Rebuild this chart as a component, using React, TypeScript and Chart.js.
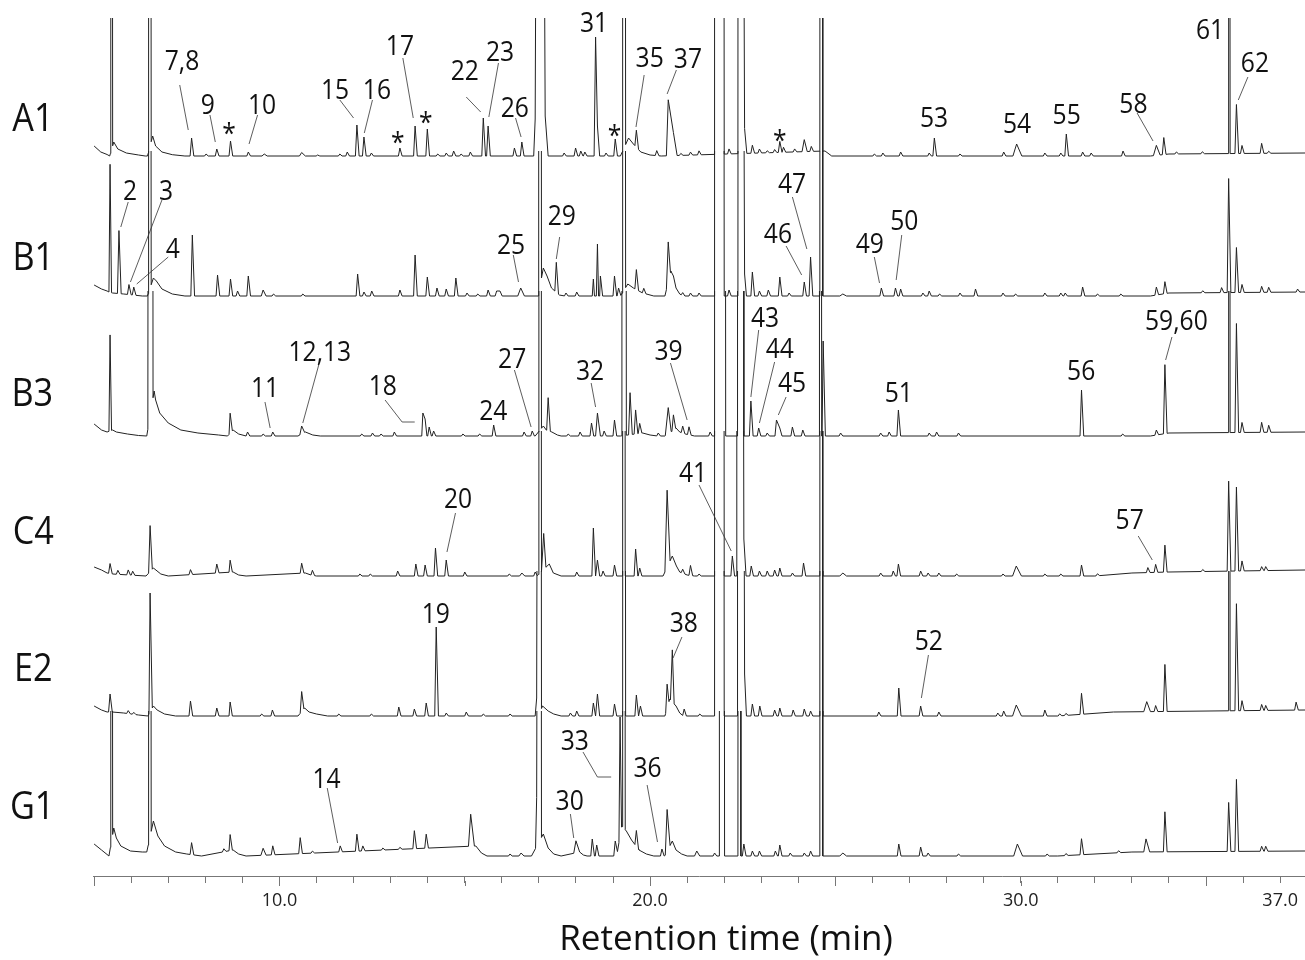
import React, { useEffect, useRef } from "react";
import { Chart, registerables } from "chart.js";

Chart.register(...registerables);

// off-scale peak height; each trace is shown up to BAND above its own baseline
const X = 1000;
const BAND = 145;

// peak = [retention time (min), height, left half-width?, right half-width?, flat top?]
const A1_PEAKS = [
  [5.45, X, 0.01, 0.02, 0.03], [6.47, X, 0.01, 0.02, 0.05], [7.63, 18], [8.02, 2], [8.31, 7], [8.68, 15],
  [9.16, 4], [9.59, 2, 0.06, 0.08], [10.6, 3.5, 0.06, 0.1], [11.03, 1], [11.63, 2], [11.83, 4], [12.09, 31],
  [12.28, 19], [12.48, 3], [13.25, 8], [13.66, 30], [13.99, 27], [14.27, 2], [14.5, 3], [14.7, 5], [14.9, 2],
  [15.15, 4], [15.5, 38], [15.63, 30], [16.34, 8], [16.54, 14], [16.9, 37, 0.04, 0.1], [17.0, X, 0.01, 0.02, 0.05],
  [17.17, 40, 0.11, 0.08], [17.68, 3], [17.99, 8], [18.13, 5], [18.24, 4], [18.53, 119], [18.58, 30, 0.04, 0.06],
  [18.81, 3], [19.06, 17], [19.26, X, 0.01, 0.02, 0.06], [19.63, 17], [20.18, 5], [20.49, 56, 0.05, 0.1],
  [20.63, 23, 0.05, 0.1], [20.83, 2], [21.09, 3], [21.32, 4], [21.74, X, 0.01, 0.02, 0.24], [22.13, 5],
  [22.38, X, 0.01, 0.02, 0.07], [22.55, 25, 0.1, 0.06], [22.76, 8], [22.95, 4], [23.16, 2], [23.36, 3], [23.5, 11],
  [23.6, 5], [23.9, 3], [24.16, 12, 0.06, 0.08], [24.35, 5], [24.59, X, 0.01, 0.02, 0.05], [26.05, 2], [26.28, 3],
  [26.76, 4], [27.53, 3], [27.67, 18], [28.36, 2], [29.54, 4], [29.89, 12, 0.1, 0.14], [30.65, 3], [31.08, 3],
  [31.23, 22], [31.67, 4], [31.9, 3], [32.76, 5], [33.66, 10, 0.08, 0.1], [33.86, 17], [34.2, 2], [34.9, 2],
  [35.61, X, 0.01, 0.02, 0.02], [35.82, 49], [35.97, 8], [36.5, 10], [36.69, 2],
];
const A1_BASE = [
  [5.0, 10], [5.18, 4], [5.35, 1.5], [5.42, 0], [5.53, 14], [5.64, 7], [5.87, 3], [6.2, 1], [6.38, 0], [6.44, 0],
  [6.58, 20], [6.66, 10], [6.83, 4], [7.11, 1.3], [7.45, 0], [19.2, 0], [19.42, 18], [19.55, 12], [19.75, 4],
  [20.0, 1], [20.3, 0], [24.72, 5], [24.9, 0], [33.5, 0], [34.0, 2], [37.67, 3],
];

const B1_PEAKS = [
  [5.43, 128, 0.03, 0.04], [5.67, 63], [5.94, 10], [6.07, 8], [6.47, X, 0.01, 0.02, 0.05], [7.65, 61], [8.33, 21],
  [8.68, 17], [8.87, 5], [9.16, 20], [9.56, 6, 0.05, 0.08], [9.84, 2], [10.63, 2], [12.11, 22], [12.28, 4],
  [12.49, 5], [13.25, 6], [13.66, 41], [13.99, 19], [14.25, 8], [14.5, 7], [14.76, 18], [15.06, 3], [15.35, 2],
  [15.63, 6], [15.86, 5], [15.95, 5], [16.51, 8, 0.08, 0.1], [17.0, X, 0.01, 0.02, 0.05], [17.47, 30], [17.73, 3],
  [18.02, 4], [18.47, 17, 0.03, 0.03], [18.58, 52, 0.03, 0.03], [18.66, 20, 0.02, 0.06], [19.04, 20], [19.15, 8],
  [19.26, X, 0.01, 0.02, 0.06], [19.63, 20], [19.83, 5], [20.49, 40, 0.05, 0.06], [20.88, 3], [21.09, 3],
  [21.32, 3], [21.74, X, 0.01, 0.02, 0.24], [22.13, 6], [22.38, X, 0.01, 0.02, 0.07], [22.55, 22, 0.1, 0.05],
  [22.76, 24], [22.95, 5], [23.19, 6], [23.5, 19], [23.75, 3], [24.16, 14], [24.33, 39], [24.59, X, 0.01, 0.02, 0.05],
  [25.2, 2, 0.08, 0.1], [26.24, 8], [26.62, 8], [26.76, 7], [27.36, 3], [27.53, 5], [27.81, 2], [28.36, 3],
  [28.78, 7], [29.52, 3], [29.86, 2], [30.65, 3], [31.08, 3], [31.2, 3], [31.67, 9], [32.07, 2], [32.7, 2],
  [33.66, 8], [33.89, 12], [34.91, 2], [35.42, 5], [35.61, 114], [35.82, 45], [35.97, 8], [36.5, 6], [36.69, 5],
  [37.47, 3],
];
const B1_BASE = [
  [5.0, 11], [5.2, 7], [5.35, 5], [5.4, 4], [5.5, 3], [5.8, 2], [6.3, 0], [6.44, 0], [6.6, 18], [6.68, 15],
  [6.83, 7], [7.11, 2], [7.45, 0], [16.98, 0], [17.12, 28], [17.22, 20], [17.34, 8], [17.55, 1], [17.7, 0],
  [19.2, 0], [19.4, 12], [19.55, 8], [19.8, 3], [20.1, 0], [20.4, 0], [20.56, 25], [20.63, 20], [20.7, 8],
  [20.8, 2], [20.9, 0], [33.5, 0], [34.0, 3], [37.67, 4],
];

const B3_PEAKS = [
  [5.43, 96, 0.03, 0.04], [6.47, X, 0.02, 0.02, 0.1], [8.67, 20, 0.03, 0.06], [9.14, 4], [9.56, 2], [9.82, 4],
  [10.6, 8, 0.05, 0.08], [12.22, 2], [12.51, 3], [12.74, 2], [13.1, 4], [13.87, 23, 0.03, 0.05],
  [13.93, 17, 0.03, 0.05], [14.04, 9], [14.16, 5], [14.95, 2], [15.4, 2], [15.78, 11], [16.6, 4], [16.82, 5],
  [17.0, X, 0.01, 0.02, 0.05], [17.25, 33], [17.79, 2], [18.11, 4], [18.42, 13], [18.58, 23, 0.05, 0.08],
  [18.76, 5], [19.04, 16], [19.24, X, 0.01, 0.02, 0.1], [19.46, 42], [19.61, 24], [19.72, 10], [20.22, 3],
  [20.49, 26, 0.08, 0.08], [20.63, 15], [20.88, 7], [21.05, 8], [21.62, 4], [21.74, X, 0.01, 0.02, 0.28],
  [22.36, X, 0.01, 0.02, 0.15], [22.72, 35], [22.93, 8], [23.16, 3], [23.41, 16], [23.5, 8], [23.84, 9],
  [24.12, 6], [24.57, X, 0.01, 0.02, 0.04], [24.67, 95, 0.03, 0.06], [25.14, 3], [26.22, 3], [26.45, 4],
  [26.7, 26], [27.53, 3], [27.73, 4], [28.32, 3], [31.64, 46], [32.75, 2], [33.66, 5], [33.89, 69],
  [35.61, X, 0.01, 0.02, 0.02], [35.82, 109], [35.97, 10], [36.5, 10], [36.69, 7],
];
const B3_BASE = [
  [5.0, 12], [5.2, 6], [5.35, 4], [5.5, 6], [5.6, 4], [5.9, 2], [6.2, 0.5], [6.42, 0], [6.62, 45], [6.66, 36],
  [6.77, 23], [7.0, 13], [7.34, 6], [7.8, 3], [8.36, 1], [8.6, 0], [8.75, 6], [8.9, 2], [9.1, 0], [10.5, 0],
  [10.7, 4], [10.9, 1], [11.1, 0], [16.9, 0], [17.12, 10], [17.2, 6], [17.35, 4], [17.5, 1], [17.6, 0],
  [19.2, 0], [19.8, 3], [20.0, 1], [20.2, 0], [20.4, 0], [20.7, 8], [20.8, 4], [20.95, 2], [21.2, 0],
  [33.5, 0], [34.0, 3], [37.67, 4],
];

const C4_PEAKS = [
  [5.43, 10], [5.64, 4], [5.92, 5], [6.04, 4], [6.51, 46, 0.04, 0.06], [7.6, 5], [8.31, 9], [8.67, 12, 0.03, 0.06],
  [10.6, 10, 0.04, 0.06], [10.89, 5], [12.17, 2], [12.45, 2], [13.19, 5], [13.68, 12], [13.93, 11], [14.21, 28],
  [14.5, 16], [15.0, 4], [16.2, 2], [16.54, 3, 0.06, 0.08], [16.9, 4], [17.0, X, 0.01, 0.02, 0.05],
  [17.13, 36, 0.06, 0.06], [18.02, 4], [18.47, 48], [18.58, 16], [18.73, 5], [19.04, 11],
  [19.26, X, 0.01, 0.02, 0.05], [19.61, 27], [19.72, 8], [20.46, 77, 0.06, 0.08], [20.88, 4], [21.09, 10],
  [21.32, 2], [21.74, X, 0.01, 0.02, 0.24], [22.22, 20], [22.34, X, 0.01, 0.02, 0.14], [22.53, 37], [22.73, 10],
  [22.95, 5], [23.16, 5], [23.36, 6], [23.5, 8], [23.84, 3], [24.14, 13], [24.59, X, 0.01, 0.02, 0.05],
  [25.2, 3, 0.08, 0.1], [26.22, 3], [26.56, 5], [26.7, 12], [27.3, 5], [27.5, 3], [27.79, 3], [28.27, 2],
  [29.52, 2], [29.88, 10, 0.1, 0.14], [30.65, 2], [31.08, 2], [31.64, 11], [32.07, 2], [33.43, 5], [33.64, 8],
  [33.89, 27], [34.91, 2], [35.61, 90], [35.82, 84], [35.97, 10], [36.5, 4], [36.61, 4],
];
const C4_BASE = [
  [5.0, 9], [5.2, 6], [5.35, 3], [5.5, 2], [6.4, 0], [6.6, 8], [6.8, 2], [7.0, 0], [8.75, 4], [8.9, 1], [9.1, 0],
  [10.7, 3], [10.85, 1], [11.0, 0], [16.95, 0], [17.28, 12], [17.39, 3], [17.6, 0], [20.35, 0], [20.6, 20],
  [20.71, 10], [20.8, 4], [21.0, 1], [21.2, 0], [32.0, 0], [33.0, 3], [34.0, 4], [37.67, 6],
];

const E2_PEAKS = [
  [5.43, 18], [5.92, 3], [6.07, 2], [6.51, 119, 0.03, 0.06], [7.6, 15], [8.31, 8], [8.67, 14, 0.03, 0.06],
  [9.52, 2], [9.81, 6], [10.6, 20, 0.04, 0.06], [11.6, 2], [12.48, 2], [13.22, 9], [13.64, 7], [13.96, 13],
  [14.23, 89], [14.5, 3], [15.04, 4], [15.5, 2], [16.22, 2], [16.94, 18, 0.04, 0.08], [17.0, X, 0.01, 0.02, 0.05],
  [17.85, 3], [18.02, 5], [18.47, 13], [18.58, 22], [19.04, 12], [19.27, X, 0.01, 0.02, 0.05], [19.63, 21],
  [19.74, 10], [20.46, 24, 0.04, 0.05], [20.6, 52, 0.05, 0.05], [20.92, 7], [21.34, 2],
  [21.74, X, 0.01, 0.02, 0.24], [22.36, X, 0.01, 0.02, 0.12], [22.55, 42, 0.1, 0.05], [22.76, 12], [22.96, 10],
  [23.36, 6], [23.5, 8], [23.86, 6], [24.16, 7], [24.33, 5], [24.59, X, 0.01, 0.02, 0.05], [26.17, 4], [26.71, 28],
  [27.3, 10], [27.79, 4], [29.38, 3], [29.54, 5], [29.88, 11, 0.1, 0.14], [30.65, 6], [31.05, 2], [31.22, 2],
  [31.64, 21], [33.4, 10, 0.08, 0.1], [33.64, 6], [33.89, 47], [35.61, X, 0.01, 0.02, 0.02], [35.82, 107],
  [35.97, 10], [36.5, 6], [36.61, 5], [37.43, 8],
];
const E2_BASE = [
  [5.0, 10], [5.2, 6], [5.35, 4], [5.5, 4], [5.8, 3], [6.2, 1], [6.45, 0], [6.6, 10], [6.7, 6], [6.9, 2],
  [7.2, 0], [10.5, 0], [10.68, 8], [10.8, 4], [11.0, 2], [11.3, 0], [16.98, 0], [17.1, 10], [17.25, 5],
  [17.4, 2], [17.6, 0], [20.4, 0], [20.53, 17], [20.7, 10], [20.8, 3], [20.9, 0], [31.0, 0], [32.5, 4],
  [37.67, 6],
];

const G1_PEAKS = [
  [5.45, X, 0.01, 0.02, 0.03], [6.47, X, 0.01, 0.02, 0.05], [7.63, 12], [8.5, 3], [8.67, 16, 0.03, 0.06],
  [9.56, 7, 0.06, 0.08], [9.82, 9], [10.56, 16], [10.89, 2], [11.64, 6], [12.09, 17], [12.25, 5], [12.79, 2],
  [13.25, 2], [13.64, 18], [13.96, 14], [15.16, 32, 0.06, 0.1], [16.22, 2], [16.52, 3, 0.06, 0.08],
  [16.94, 49, 0.03, 0.08], [17.0, X, 0.01, 0.02, 0.05], [18.0, 12, 0.06, 0.1], [18.44, 17], [18.56, 11],
  [19.06, 15], [19.19, 119, 0.03, 0.04], [19.26, X, 0.01, 0.02, 0.05], [19.63, 16], [20.32, 7],
  [20.46, 42, 0.05, 0.08], [21.26, 5, 0.06, 0.08], [21.74, 3], [21.87, X, 0.01, 0.02, 0.12],
  [22.38, X, 0.01, 0.02, 0.05], [22.53, 12], [22.76, 5], [22.95, 5], [23.38, 5], [23.5, 11], [23.78, 3],
  [24.16, 3], [24.33, 5], [24.59, X, 0.01, 0.02, 0.05], [25.2, 3, 0.08, 0.1], [26.71, 12], [27.3, 9], [27.5, 3],
  [28.32, 2], [29.91, 12, 0.1, 0.14], [30.71, 2], [31.22, 2], [31.64, 16], [32.64, 2], [33.38, 13, 0.06, 0.1],
  [33.89, 40], [35.61, 49], [35.82, 72], [36.5, 5], [36.61, 5],
];
const G1_BASE = [
  [5.0, 12], [5.2, 6], [5.4, 0], [5.53, 28], [5.6, 18], [5.72, 10], [5.98, 5], [6.3, 4], [6.42, 4], [6.6, 35],
  [6.72, 20], [6.9, 10], [7.2, 4], [7.5, 2], [7.9, 0], [8.75, 6], [8.9, 2], [9.1, 0], [15.3, 10], [15.45, 3],
  [15.6, 0], [16.8, 0], [17.12, 22], [17.25, 8], [17.4, 2], [17.6, 0], [18.1, 4], [18.2, 1], [18.3, 0],
  [19.1, 0], [19.235, 30], [19.36, 25], [19.5, 16], [19.7, 6], [19.9, 2], [20.1, 0], [20.4, 0], [20.6, 15],
  [20.7, 6], [20.85, 2], [21.0, 0], [31.0, 0], [33.0, 4], [37.67, 5],
];

const TRACE_NAMES = ["A1", "B1", "B3", "C4", "E2", "G1"];
const TRACE_PEAKS = [A1_PEAKS, B1_PEAKS, B3_PEAKS, C4_PEAKS, E2_PEAKS, G1_PEAKS];
const TRACE_BASES = [A1_BASE, B1_BASE, B3_BASE, C4_BASE, E2_BASE, G1_BASE];
const TRACE_OFFSETS = [720, 580, 440, 300, 160, 20];
// name label anchor [time, value]
const TRACE_LABEL_POS = [[3.35, 759], [3.36, 620], [3.33, 484], [3.36, 346], [3.36, 209], [3.33, 71]];

// [text, time, value, leader points?]
const PEAK_LABELS: [string, number, number, number[][]?][] = [
  ["7,8", 7.37, 814, [[7.31, 791], [7.54, 746]]],
  ["9", 8.07, 772, [[8.125, 761], [8.27, 734]]],
  ["*", 8.64, 748],
  ["10", 9.53, 772, [[9.41, 761], [9.18, 732]]],
  ["15", 11.5, 787, [[11.63, 776], [12.0, 758]]],
  ["16", 12.63, 787, [[12.51, 776], [12.29, 743]]],
  ["*", 13.19, 739],
  ["17", 13.25, 831, [[13.33, 818], [13.61, 758]]],
  ["*", 13.95, 759],
  ["22", 15.0, 806, [[15.04, 779], [15.43, 764]]],
  ["23", 15.95, 825, [[15.91, 813], [15.65, 759]]],
  ["26", 16.35, 769, [[16.37, 758], [16.52, 739]]],
  ["31", 18.49, 854],
  ["*", 19.04, 746],
  ["35", 19.99, 819, [[19.84, 801], [19.62, 749]]],
  ["37", 21.02, 818, [[20.71, 806], [20.46, 782]]],
  ["*", 23.5, 741],
  ["53", 27.66, 759],
  ["54", 29.9, 753],
  ["55", 31.24, 762],
  ["58", 33.04, 773, [[33.14, 763], [33.57, 735]]],
  ["61", 35.11, 847],
  ["62", 36.32, 814, [[36.13, 799], [35.87, 776]]],
  ["2", 5.97, 686, [[5.92, 674], [5.72, 649]]],
  ["3", 6.94, 686, [[6.83, 676], [5.98, 594]]],
  ["4", 7.12, 628, [[7.0, 619], [6.15, 592]]],
  ["25", 16.25, 632, [[16.31, 621], [16.45, 594]]],
  ["29", 17.62, 661, [[17.56, 639], [17.47, 617]]],
  ["46", 23.45, 643, [[23.67, 630], [24.09, 601]]],
  ["47", 23.83, 693, [[23.84, 679], [24.23, 627]]],
  ["49", 25.93, 633, [[26.05, 619], [26.19, 593]]],
  ["50", 26.86, 656, [[26.79, 641], [26.64, 596]]],
  ["11", 9.61, 489, [[9.61, 474], [9.75, 448]]],
  ["12,13", 11.09, 523, [[11.06, 511], [10.63, 453]]],
  ["18", 12.79, 491, [[12.85, 476], [13.31, 454], [13.65, 454]]],
  ["24", 15.77, 466],
  ["27", 16.28, 518, [[16.34, 506], [16.79, 449]]],
  ["32", 18.38, 506, [[18.41, 493], [18.53, 469]]],
  ["39", 20.5, 526, [[20.55, 513], [21.0, 456]]],
  ["43", 23.1, 559, [[22.93, 546], [22.72, 479]]],
  ["44", 23.5, 528, [[23.36, 514], [22.95, 453]]],
  ["45", 23.83, 494, [[23.67, 479], [23.46, 461]]],
  ["51", 26.71, 484],
  ["56", 31.63, 506],
  ["59,60", 34.2, 554, [[34.08, 539], [33.91, 516]]],
  ["20", 14.82, 378, [[14.75, 363], [14.52, 324]]],
  ["41", 21.16, 404, [[21.32, 391], [22.19, 325]]],
  ["57", 32.94, 357, [[33.17, 340], [33.55, 316]]],
  ["19", 14.22, 263],
  ["38", 20.91, 254, [[20.86, 239], [20.62, 218]]],
  ["52", 27.52, 236, [[27.51, 221], [27.32, 178]]],
  ["14", 11.27, 98, [[11.29, 88], [11.57, 33]]],
  ["30", 17.83, 76, [[17.85, 62], [17.94, 38]]],
  ["33", 17.97, 136, [[18.19, 124], [18.58, 99], [18.95, 99]]],
  ["36", 19.93, 109, [[19.92, 91], [20.2, 34]]],
];

const AXIS_TICKS = [5, 6, 7, 8, 9, 10, 11, 12, 13, 14, 15, 16, 17, 18, 19, 20, 21, 22, 23, 24, 25, 26, 27, 28, 29, 30, 31, 32, 33, 34, 35, 36, 37];
const MAJOR_TICKS = [5, 10, 15, 20, 25, 30, 35];
const TICK_LABELS = [10, 20, 30, 37];
const X_MIN = 4.97;
const X_MAX = 37.67;
const Y_MAX = 858;
const AXIS_TITLE = "Retention time (min)";
const AXIS_TITLE_POS = [22.05, -64];

const FONT = '"Open Sans", "Noto Sans", "DejaVu Sans", sans-serif';

function buildTrace(peaks: number[][], base: number[][], offset: number) {
  const bp = [...base].sort((a, b) => a[0] - b[0]);
  const baseAt = (t: number) => {
    if (t <= bp[0][0]) return bp[0][1];
    for (let i = 1; i < bp.length; i++) {
      if (t <= bp[i][0]) {
        const [t0, y0] = bp[i - 1];
        const [t1, y1] = bp[i];
        return y0 + ((y1 - y0) * (t - t0)) / (t1 - t0);
      }
    }
    return bp[bp.length - 1][1];
  };
  const segs = peaks.map((p) => {
    const [t, h, wl = 0.04, wr = 0.06, pl = 0] = p;
    return { t, h, pl, l: t - wl, r: t + pl + wr };
  });
  const inside = (x: number, self: any) => segs.some((s) => s !== self && x > s.l && x < s.r);
  const pts: { x: number; y: number }[] = [];
  segs.forEach((s) => {
    if (!inside(s.l, s)) pts.push({ x: s.l, y: baseAt(s.l) });
    pts.push({ x: s.t, y: baseAt(s.t) + s.h });
    if (s.pl > 0) pts.push({ x: s.t + s.pl, y: baseAt(s.t + s.pl) + s.h });
    if (!inside(s.r, s)) pts.push({ x: s.r, y: baseAt(s.r) });
  });
  bp.forEach(([t, y]) => {
    if (!segs.some((s) => t >= s.l && t <= s.r)) pts.push({ x: t, y });
  });
  pts.sort((a, b) => a.x - b.x);
  return pts.map((p) => ({ x: p.x, y: p.y + offset }));
}

function drawText(ctx: CanvasRenderingContext2D, text: string, x: number, y: number, size: number, sx: number) {
  ctx.save();
  ctx.font = `${size}px ${FONT}`;
  ctx.textAlign = "center";
  ctx.textBaseline = "alphabetic";
  const m = ctx.measureText(text);
  const dy = (m.actualBoundingBoxAscent - m.actualBoundingBoxDescent) / 2;
  ctx.translate(x, y);
  ctx.scale(sx, 1);
  ctx.fillText(text, 0, dy);
  ctx.restore();
}

// each trace is cut BAND above its own baseline, as in the original figure
const bandClip = {
  id: "bandClip",
  beforeDatasetDraw(chart: any, args: any) {
    const { ctx, chartArea } = chart;
    const top = chart.scales.y.getPixelForValue(TRACE_OFFSETS[args.index] + BAND);
    ctx.save();
    ctx.beginPath();
    ctx.rect(chartArea.left - 2, top, chartArea.right - chartArea.left + 4, chartArea.bottom - top + 2);
    ctx.clip();
  },
  afterDatasetDraw(chart: any) {
    chart.ctx.restore();
  },
};

const annotations = {
  id: "chromAnnotations",
  afterDatasetsDraw(chart: any) {
    const { ctx, chartArea } = chart;
    const xs = chart.scales.x;
    const ys = chart.scales.y;
    const px = (t: number) => xs.getPixelForValue(t);
    const py = (v: number) => ys.getPixelForValue(v);
    ctx.save();
    // longer marks every 5 min
    ctx.strokeStyle = "#777";
    ctx.lineWidth = 1;
    MAJOR_TICKS.forEach((t) => {
      const x = Math.round(px(t)) + 0.5;
      ctx.beginPath();
      ctx.moveTo(x, chartArea.bottom + 5);
      ctx.lineTo(x, chartArea.bottom + 10);
      ctx.stroke();
    });
    ctx.fillStyle = "#111";
    ctx.strokeStyle = "#333";
    ctx.lineWidth = 0.8;
    PEAK_LABELS.forEach(([text, t, v, leader]) => {
      if (leader) {
        ctx.beginPath();
        leader.forEach(([lt, lv], i) => {
          if (i === 0) ctx.moveTo(px(lt), py(lv));
          else ctx.lineTo(px(lt), py(lv));
        });
        ctx.stroke();
      }
      drawText(ctx, text, px(t), py(v), 28, 0.88);
    });
    TRACE_NAMES.forEach((name, i) => {
      const [t, v] = TRACE_LABEL_POS[i];
      drawText(ctx, name, px(t), py(v), 38, 0.9);
    });
    drawText(ctx, AXIS_TITLE, px(AXIS_TITLE_POS[0]), py(AXIS_TITLE_POS[1]), 35, 1);
    ctx.restore();
  },
};

export default function App() {
  const ref = useRef<HTMLCanvasElement | null>(null);
  useEffect(() => {
    if (!ref.current) return;
    const datasets = TRACE_NAMES.map((name, i) => ({
      label: name,
      data: buildTrace(TRACE_PEAKS[i], TRACE_BASES[i], TRACE_OFFSETS[i]),
      borderColor: "#222",
      borderWidth: 1,
      pointRadius: 0,
      tension: 0,
      fill: false,
    }));
    const chart = new Chart(ref.current, {
      type: "line",
      data: { datasets },
      options: {
        animation: false,
        responsive: true,
        maintainAspectRatio: false,
        parsing: false as any,
        layout: { padding: { left: 93, right: 0, top: 18, bottom: 0 } },
        plugins: { legend: { display: false }, tooltip: { enabled: false } },
        scales: {
          x: {
            type: "linear",
            min: X_MIN,
            max: X_MAX,
            afterBuildTicks: (scale: any) => {
              scale.ticks = AXIS_TICKS.map((v) => ({ value: v }));
            },
            afterFit: (scale: any) => {
              scale.height = 84;
            },
            grid: { drawOnChartArea: false, drawTicks: true, tickLength: 7, tickColor: "#777", tickWidth: 1 },
            border: { display: true, color: "#777", width: 1 },
            ticks: {
              autoSkip: false,
              maxRotation: 0,
              padding: 7,
              color: "#222",
              font: { family: FONT, size: 18 },
              callback: (v: any) => (TICK_LABELS.includes(Number(v)) ? Number(v).toFixed(1) : ""),
            },
          },
          y: { type: "linear", min: 0, max: Y_MAX, display: false },
        },
      },
      plugins: [bandClip, annotations],
    });
    if ((document as any).fonts && (document as any).fonts.load) {
      (document as any).fonts.load(`28px ${FONT}`).then(() => chart.draw()).catch(() => {});
    }
    return () => chart.destroy();
  }, []);
  return (
    <div style={{ position: "fixed", left: 0, top: 0, width: 1305, height: 960, background: "#fff" }}>
      <canvas ref={ref} style={{ display: "block" }} />
    </div>
  );
}
